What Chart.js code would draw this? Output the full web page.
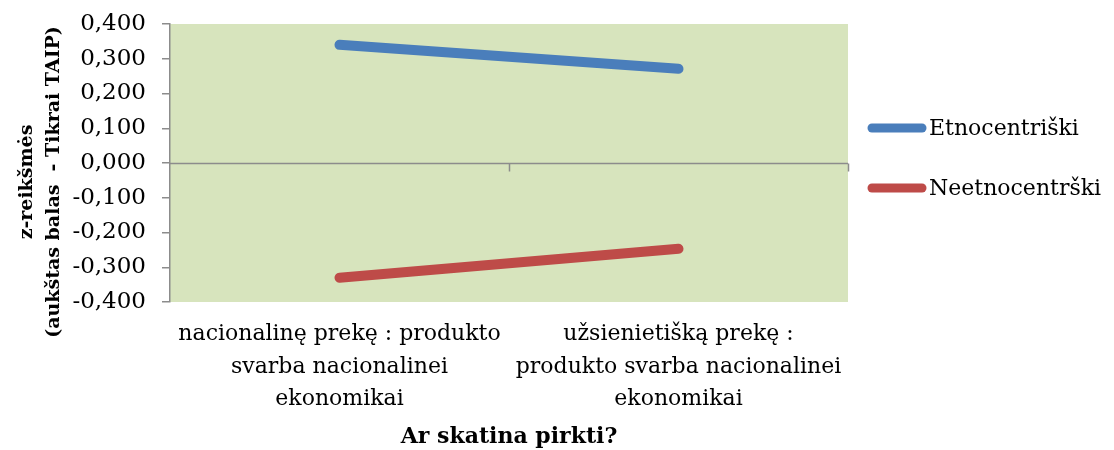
<!DOCTYPE html>
<html>
<head>
<meta charset="utf-8">
<script src="https://cdn.jsdelivr.net/npm/chart.js@4"></script>
<style>
    html, body { margin: 0; padding: 0; background: #ffffff; }
    #wrap { width: 1114px; height: 450px; position: relative; }
</style>
</head>
<body>
<div id="wrap"><canvas id="chart"></canvas></div>
<script>
// categories (x axis), one array of lines per label
var categories = [
    ["nacionalinę prekę : produkto", "svarba nacionalinei", "ekonomikai"],
    ["užsienietišką prekę :", "produkto svarba nacionalinei", "ekonomikai"]
];
var seriesNames = ["Etnocentriški", "Neetnocentrški"];
var etnoValues = [0.340, 0.271];
var neetnoValues = [-0.330, -0.247];
var seriesColors = ["#4a7ebb", "#be4b48"];
var yTitle = ["z-reikšmės", "(aukštas balas  - Tikrai TAIP)"];
var xTitle = "Ar skatina pirkti?";

var fontFamily = "'DejaVu Serif', 'Liberation Serif', serif";
var axisGray = "#8c8c8c";

// fond de la zone de tracé + ligne du zéro + petits traits de catégories
var plotDecor = {
    id: "plotDecor",
    beforeDraw: function (chart) {
        var ctx = chart.ctx;
        var a = chart.chartArea;
        ctx.save();
        ctx.fillStyle = "#d7e4bd";
        ctx.fillRect(a.left, a.top, a.right - a.left, a.bottom - a.top);
        ctx.restore();
    },
    beforeDatasetsDraw: function (chart) {
        var ctx = chart.ctx;
        var a = chart.chartArea;
        var y0 = Math.round(chart.scales.y.getPixelForValue(0)) + 0.5;
        var xs = chart.scales.x;
        ctx.save();
        ctx.strokeStyle = axisGray;
        ctx.lineWidth = 1.5;
        ctx.beginPath();
        ctx.moveTo(a.left, y0);
        ctx.lineTo(a.right, y0);
        // traits aux limites des catégories
        for (var i = 0; i < categories.length; i++) {
            var edge;
            if (i < categories.length - 1) {
                edge = (xs.getPixelForTick(i) + xs.getPixelForTick(i + 1)) / 2;
            } else {
                edge = a.right;
            }
            edge = Math.round(edge) + 0.5;
            ctx.moveTo(edge, y0);
            ctx.lineTo(edge, y0 + 8);
        }
        ctx.stroke();
        ctx.restore();
    },
    afterDraw: function (chart) {
        var ctx = chart.ctx;
        ctx.save();
        // titre de l'axe Y (deux lignes, tourné)
        ctx.fillStyle = "#000";
        ctx.font = "bold 19px " + fontFamily;
        ctx.textAlign = "center";
        ctx.textBaseline = "middle";
        var cy = 182;
        var lineX = [27, 54];
        for (var i = 0; i < yTitle.length; i++) {
            ctx.save();
            ctx.translate(lineX[i], cy);
            ctx.rotate(-Math.PI / 2);
            ctx.fillText(yTitle[i], 0, 0);
            ctx.restore();
        }
        // légende
        ctx.font = "22px " + fontFamily;
        ctx.textAlign = "left";
        var legY = [128, 188];
        for (var j = 0; j < seriesNames.length; j++) {
            ctx.strokeStyle = seriesColors[j];
            ctx.lineWidth = 9;
            ctx.lineCap = "round";
            ctx.beginPath();
            ctx.moveTo(872, legY[j]);
            ctx.lineTo(922, legY[j]);
            ctx.stroke();
            ctx.fillText(seriesNames[j], 929, legY[j] + 1);
        }
        ctx.restore();
    }
};

var chart = new Chart(document.getElementById("chart"), {
    type: "line",
    data: {
        labels: categories,
        datasets: [
            {
                label: seriesNames[0],
                data: etnoValues,
                borderColor: seriesColors[0],
                backgroundColor: seriesColors[0],
                borderWidth: 10,
                borderCapStyle: "round",
                pointRadius: 0,
                pointHoverRadius: 0
            },
            {
                label: seriesNames[1],
                data: neetnoValues,
                borderColor: seriesColors[1],
                backgroundColor: seriesColors[1],
                borderWidth: 10,
                borderCapStyle: "round",
                pointRadius: 0,
                pointHoverRadius: 0
            }
        ]
    },
    options: {
        responsive: true,
        maintainAspectRatio: false,
        animation: false,
        layout: { padding: { top: 24, right: 266, left: 0, bottom: 0 } },
        plugins: {
            legend: { display: false },
            tooltip: { enabled: false }
        },
        scales: {
            x: {
                offset: true,
                grid: { display: false, drawTicks: false },
                border: { display: false },
                ticks: {
                    color: "#000",
                    font: { family: fontFamily, size: 22, lineHeight: 1.48 },
                    padding: 16,
                    maxRotation: 0,
                    autoSkip: false
                },
                title: {
                    display: true,
                    text: xTitle,
                    color: "#000",
                    font: { family: fontFamily, size: 22, weight: "bold" },
                    padding: { top: 4, bottom: 0 }
                },
                afterFit: function (scale) {
                    scale.height = 148;
                }
            },
            y: {
                min: -0.4,
                max: 0.4,
                ticks: {
                    stepSize: 0.1,
                    color: "#000",
                    font: { family: fontFamily, size: 23 },
                    padding: 16,
                    callback: function (v) {
                        return Number(v).toFixed(3).replace(".", ",");
                    }
                },
                grid: {
                    drawOnChartArea: false,
                    tickLength: 8,
                    color: axisGray,
                    lineWidth: 1.5
                },
                border: { display: true, color: axisGray, width: 1.5 },
                afterFit: function (scale) {
                    scale.width = 170;
                    scale.paddingTop = 0;
                    scale.paddingBottom = 0;
                }
            }
        }
    },
    plugins: [plotDecor]
});
</script>
</body>
</html>
